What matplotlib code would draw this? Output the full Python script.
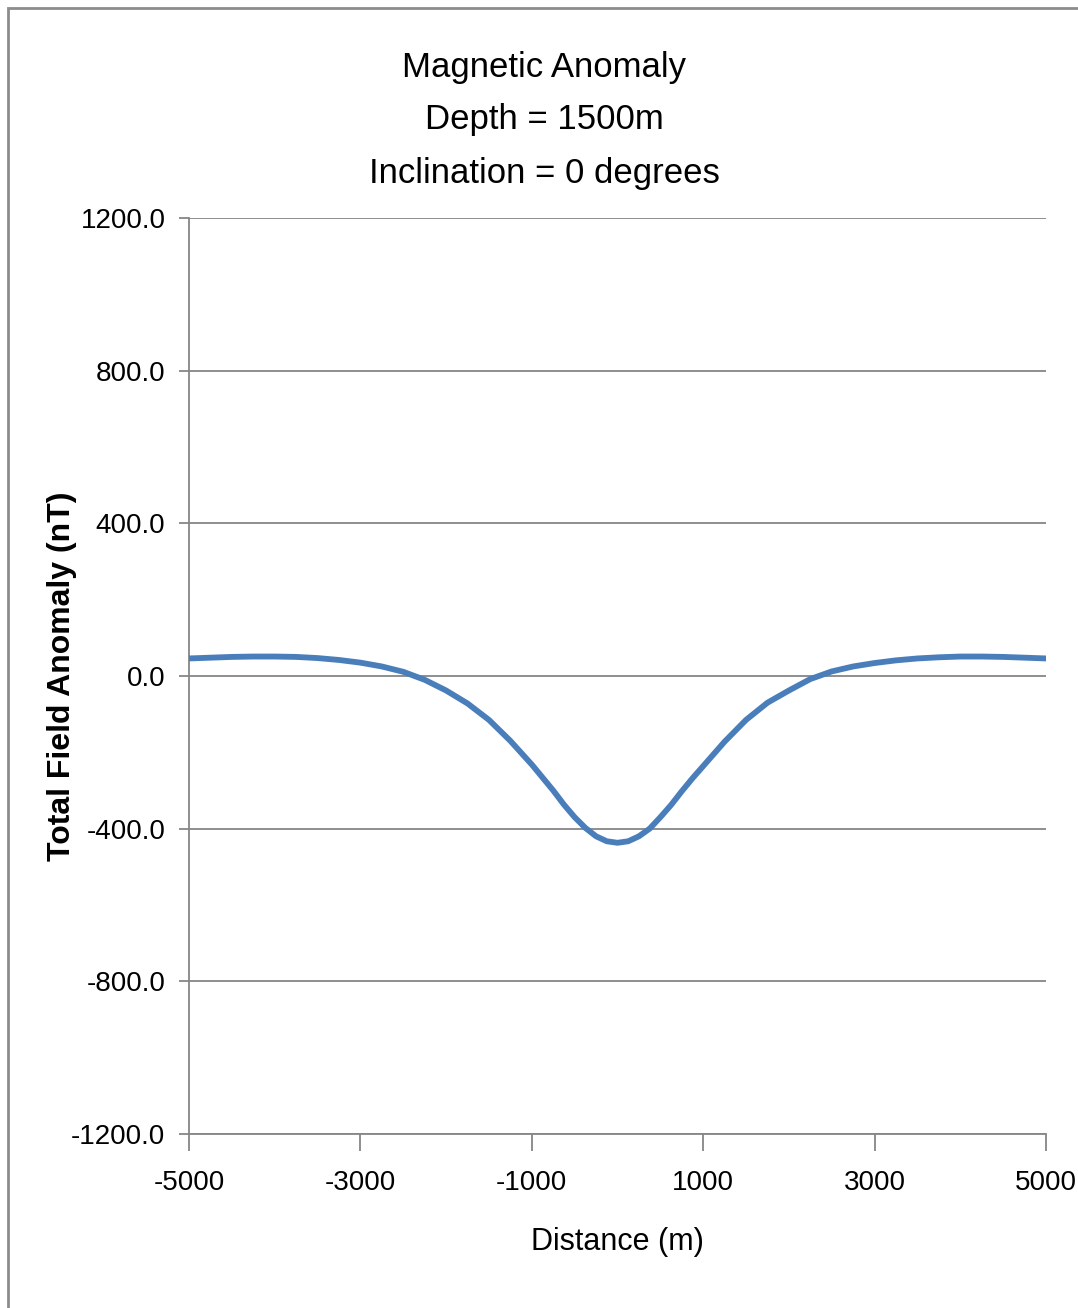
import matplotlib
matplotlib.use("Agg")
import matplotlib.pyplot as plt
from matplotlib.patches import Rectangle

# distance along profile (m) and total field anomaly (nT)
distance = [-5000, -4750, -4500, -4250, -4000, -3750, -3500, -3250, -3000, -2750,
            -2500, -2250, -2000, -1750, -1500, -1250, -1000, -875, -750, -625,
            -500, -375, -250, -125, 0, 125, 250, 375, 500, 625,
            750, 875, 1000, 1250, 1500, 1750, 2000, 2250, 2500, 2750,
            3000, 3250, 3500, 3750, 4000, 4250, 4500, 4750, 5000]
anomaly = [46, 48, 50, 51, 51, 50, 47, 42, 35, 25,
           11, -10, -38, -72, -115, -170, -232, -266, -300, -337,
           -370, -398, -420, -433, -437, -433, -420, -400, -370, -338,
           -302, -268, -236, -172, -115, -70, -38, -8, 12, 25,
           34, 41, 46, 49, 51, 51, 50, 48, 46]

x_ticks = [-5000, -3000, -1000, 1000, 3000, 5000]
y_ticks = [-1200, -800, -400, 0, 400, 800, 1200]

title_lines = ["Magnetic Anomaly", "Depth = 1500m", "Inclination = 0 degrees"]

font = ["Liberation Sans", "DejaVu Sans"]

fig = plt.figure(figsize=(10.78, 13.08), dpi=100)
ax = fig.add_axes([189 / 1078, 1 - 1134 / 1308, (1046 - 189) / 1078, (1134 - 218) / 1308])

ax.plot(distance, anomaly, color="#4a7ebb", lw=4.2, solid_capstyle="round",
        solid_joinstyle="round", zorder=3)

ax.set_xlim(-5000, 5000)
ax.set_ylim(-1200, 1200)
ax.set_xticks(x_ticks)
ax.set_yticks(y_ticks)
ax.set_xticklabels([str(t) for t in x_ticks], fontsize=20, family=font)
ax.set_yticklabels(["%.1f" % t for t in y_ticks], fontsize=20, family=font)

for y in y_ticks:
    ax.axhline(y, color="#868686", lw=1.3, zorder=1)

for side in ["top", "right"]:
    ax.spines[side].set_visible(False)
for side in ["left", "bottom"]:
    ax.spines[side].set_color("#868686")
    ax.spines[side].set_linewidth(1.3)

ax.tick_params(axis="x", direction="out", length=12, width=1.3, color="#868686", pad=14)
ax.tick_params(axis="y", direction="out", length=7, width=1.3, color="#868686", pad=10)

ax.set_xlabel("Distance (m)", fontsize=22, labelpad=22, family=font)
ax.set_ylabel("Total Field Anomaly (nT)", family=font,
              fontsize=23, fontweight="bold", labelpad=-4)

for i, line in enumerate(title_lines):
    fig.text(0.505, 1 - (67 + 53 * i) / 1308, line, ha="center", va="center",
             fontsize=25, family=font)

# outer chart border (only left and top visible in the original crop)
fig.patches.append(Rectangle((8 / 1078, -0.05), 1.2, 1 - 8 / 1308 + 0.05,
                             transform=fig.transFigure, fill=False,
                             edgecolor="#8c8c8c", lw=2))

fig.savefig("out.png", dpi=100)
